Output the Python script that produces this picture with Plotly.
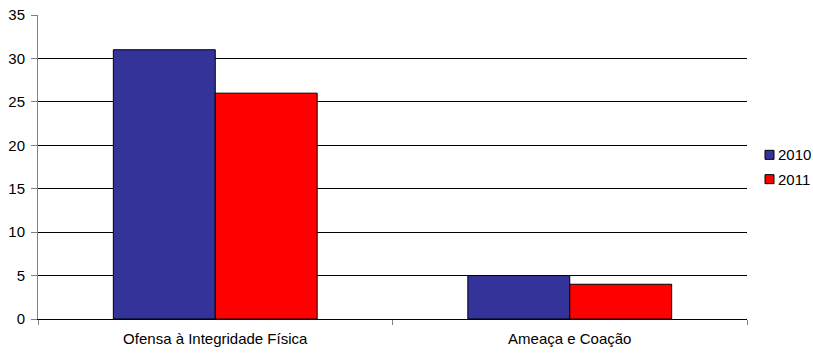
import plotly.graph_objects as go

categories = ["Ofensa à Integridade Física", "Ameaça e Coação"]
series_names = ["2010", "2011"]
values_2010 = [31, 5]
values_2011 = [26, 4]
y_ticks = [0, 5, 10, 15, 20, 25, 30, 35]
colors = ["#333399", "#FF0000"]

fig = go.Figure()
for name, vals, col in zip(series_names, [values_2010, values_2011], colors):
    fig.add_trace(go.Bar(name=name, x=categories, y=vals,
                         marker=dict(color=col, line=dict(color="#000000", width=1))))

# Legend drawn at the right of the plot: small outlined squares with labels
legend_y = [0.54, 0.46]
for name, col, ly in zip(series_names, colors, legend_y):
    fig.add_shape(type="rect", xref="paper", yref="paper",
                  x0=1.0254, x1=1.0381, y0=ly - 0.0148, y1=ly + 0.0148,
                  fillcolor=col, line=dict(color="#000000", width=1))
    fig.add_annotation(xref="paper", yref="paper", x=1.041, y=ly,
                       xanchor="left", yanchor="middle", text=name,
                       showarrow=False, font=dict(size=15))

fig.update_layout(
    width=813, height=354,
    margin=dict(l=38, r=66, t=15, b=35, autoexpand=False),
    paper_bgcolor="white", plot_bgcolor="white",
    barmode="group", bargap=0.425, bargroupgap=0,
    font=dict(family="Liberation Sans, Arial, sans-serif", size=15, color="#000000"),
    showlegend=False,
)
fig.update_xaxes(
    showline=True, linecolor="#000000", linewidth=1,
    ticks="outside", tickson="boundaries", ticklen=5, tickcolor="#808080",
    showgrid=False, tickfont=dict(size=15), ticklabelstandoff=6,
)
fig.update_yaxes(
    range=[0, 35], tickvals=y_ticks,
    showline=True, linecolor="#808080", linewidth=1,
    ticks="outside", ticklen=6, tickcolor="#808080",
    showgrid=True, gridcolor="#000000", gridwidth=1,
    zeroline=False, tickfont=dict(size=15), ticklabelstandoff=3,
)

fig.write_html("out.html")
